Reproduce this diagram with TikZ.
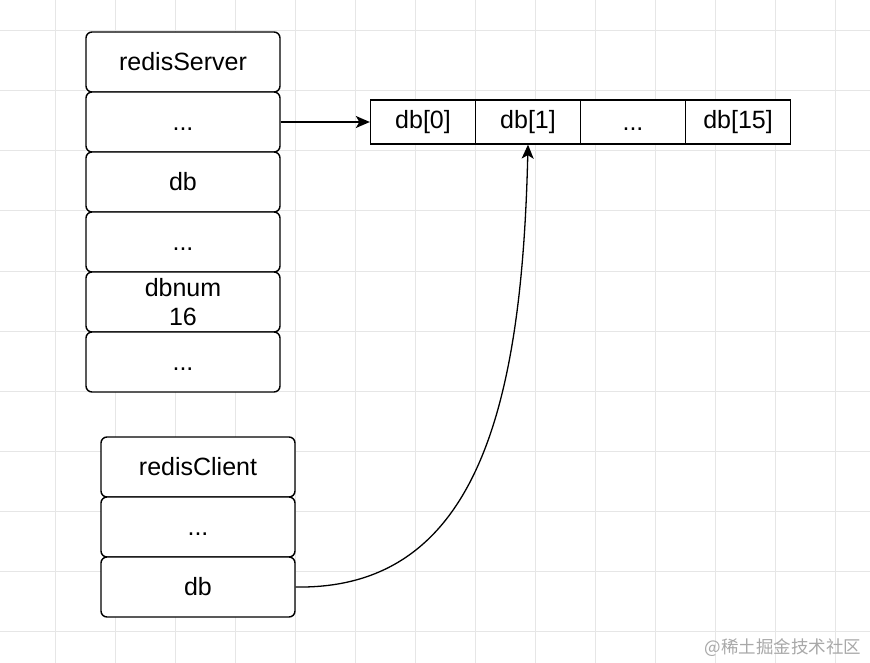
\documentclass[tikz,border=0pt]{standalone}
\usepackage{fontspec}
\setmainfont{Liberation Sans}
\newfontfamily\cjk{Noto Sans CJK SC}
\usetikzlibrary{arrows.meta}
\definecolor{gridc}{HTML}{E6E6E6}
\definecolor{wmc}{HTML}{A8A8A8}
\newcommand{\dotsfill}{\vphantom{db}...}
\tikzset{
  rbox/.style={draw=black, fill=white, line width=1.4pt, rounded corners=6pt,
    inner sep=0pt, minimum width=194pt, minimum height=60pt,
    font=\fontsize{25}{29}\selectfont, align=center},
  cell/.style={draw=black, fill=white, line width=1.3pt,
    inner sep=0pt, minimum width=105pt, minimum height=44pt,
    font=\fontsize{25}{29}\selectfont},
  arr/.style={line width=1.3pt, -{Stealth[length=14pt,width=12pt,inset=3.5pt]}},
}
\begin{document}
\begin{tikzpicture}[x=1pt,y=-1pt]
\useasboundingbox (0,0) rectangle (870,663);
\fill[white] (0,0) rectangle (870,663);
% grid
\foreach \gx in {55.7,115.7,...,840} {\draw[gridc, line width=1pt] (\gx,0) -- (\gx,663);}
\foreach \gy in {31,91,...,660} {\draw[gridc, line width=1pt] (0,\gy) -- (870,\gy);}
% redisServer
\node[rbox] (s1) at (183,62) {redisServer};
\node[rbox] (s2) at (183,122) {\dotsfill};
\node[rbox] (s3) at (183,182) {db};
\node[rbox] (s4) at (183,242) {\dotsfill};
\node[rbox] (s5) at (183,302) {dbnum\\16};
\node[rbox] (s6) at (183,362) {\dotsfill};
% redisClient
\node[rbox] (c1) at (198,467) {redisClient};
\node[rbox] (c2) at (198,527) {\dotsfill};
\node[rbox] (c3) at (198,587) {db};
% db array
\node[cell] (a0) at (423,122) {db[0]};
\node[cell] (a1) at (528,122) {db[1]};
\node[cell] (a2) at (633,122) {\dotsfill};
\node[cell] (a3) at (738,122) {db[15]};
% connectors
\draw[arr] (s2.east) -- (a0.west);
\draw[arr] (c3.east) .. controls (480,590) and (522,400) .. (a1.south);
% watermark
\node[text=wmc, font=\cjk\fontsize{17.5}{20}\selectfont, inner sep=0pt] (wm) at (783,648) {@稀土掘金技术社区};
\end{tikzpicture}
\end{document}
